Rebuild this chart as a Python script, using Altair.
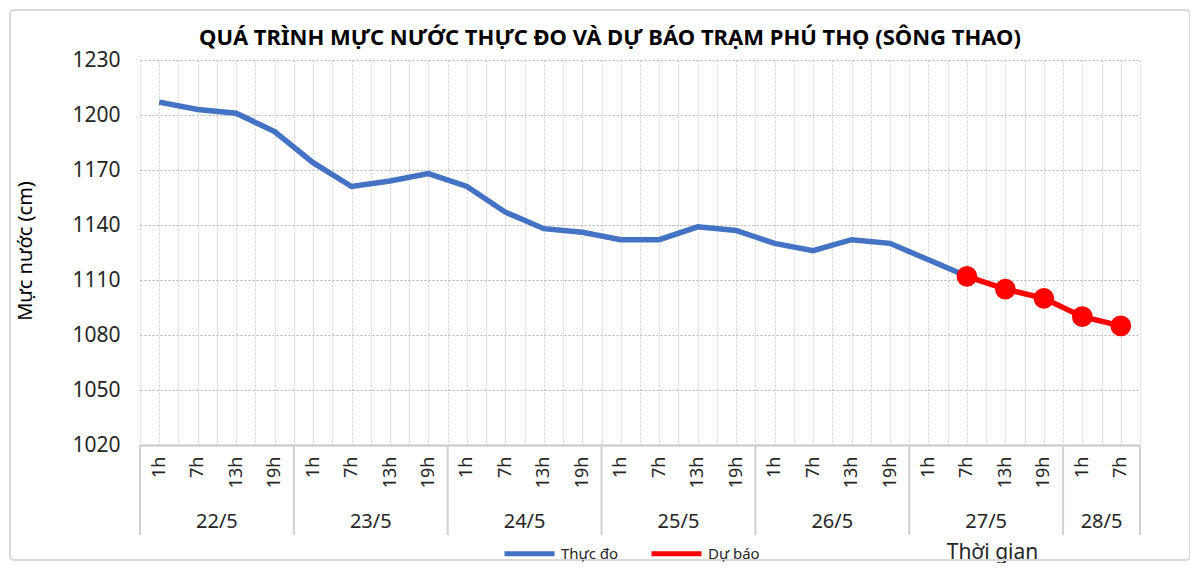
import altair as alt
import pandas as pd

# ---------------- data ----------------
dates = ["22/5", "23/5", "24/5", "25/5", "26/5", "27/5", "28/5"]
hours_per_day = [["1h", "7h", "13h", "19h"]] * 6 + [["1h", "7h"]]
hour_labels = [h for day in hours_per_day for h in day]

observed = [1207, 1203, 1201, 1191, 1174, 1161, 1164, 1168,
            1161, 1147, 1138, 1136, 1132, 1132, 1139, 1137,
            1130, 1126, 1132, 1130, 1121, 1112]
forecast = [1112, 1105, 1100, 1090, 1085]
forecast_start = len(observed) - 1

series_names = ["Thực đo", "Dự báo"]
y_ticks = [1020, 1050, 1080, 1110, 1140, 1170, 1200, 1230]

title_text = "QUÁ TRÌNH MỰC NƯỚC THỰC ĐO VÀ DỰ BÁO TRẠM PHÚ THỌ (SÔNG THAO)"
y_title = "Mực nước (cm)"
x_title = "Thời gian"

# ---------------- tables ----------------
rows = []
for i, v in enumerate(observed):
    rows.append({"idx": i, "value": v, "series": series_names[0]})
for j, v in enumerate(forecast):
    rows.append({"idx": forecast_start + j, "value": v, "series": series_names[1]})
df = pd.DataFrame(rows)

bounds = [-0.5]
centers = []
pos = 0
for day in hours_per_day:
    centers.append(pos + (len(day) - 1) / 2)
    pos += len(day)
    bounds.append(pos - 0.5)
df_bounds = pd.DataFrame({"idx": bounds})
df_dates = pd.DataFrame({"idx": centers, "date": dates})
df_title = pd.DataFrame({"t": [title_text]})

n = len(hour_labels)
FONT = "Noto Sans"
W, H = 1000, 385

x_scale = alt.Scale(domain=[-0.5, n - 0.5], nice=False, zero=False)
y_scale = alt.Scale(domain=[y_ticks[0], y_ticks[-1]], nice=False, zero=False)

arr = "[" + ",".join("'" + h + "'" for h in hour_labels) + "]"
label_expr = f"datum.value % 1 == 0 ? {arr}[datum.value] : ''"

x_axis = alt.Axis(
    values=[k / 2 for k in range(-1, 2 * n)],
    labelExpr=label_expr, labelAngle=270, labelFlush=False, labelOverlap=False,
    labelBound=False, labelFontSize=18, labelPadding=11, labelColor="#262626",
    labelFont=FONT,
    grid=True, gridDash=[2, 2], gridColor="#cccccc", gridWidth=1,
    ticks=False, domain=True, domainColor="#c8c8c8", domainWidth=2,
    title=x_title, titleFont=FONT, titleFontSize=21, titleFontWeight="normal",
    titleColor="#262626", titleX=852, titleY=96, titleAlign="center",
)
y_axis = alt.Axis(
    values=y_ticks, format="d", grid=True, gridDash=[2, 2], gridColor="#b4b4b4",
    ticks=False, domain=False, labelFontSize=21, labelPadding=20,
    labelColor="#262626", labelFont=FONT,
    title=y_title, titleFont=FONT, titleFontSize=20, titleFontWeight="normal",
    titleColor="#000000", titleX=-105, titleY=H / 2 - 2, titleAlign="center",
)

X = lambda: alt.X("idx:Q", scale=x_scale, axis=x_axis)
Y = lambda: alt.Y("value:Q", scale=y_scale, axis=y_axis)

color_enc = alt.Color(
    "series:N",
    scale=alt.Scale(domain=series_names, range=["#4472C4", "#FF0000"]),
    legend=alt.Legend(
        title=None, orient="none", legendX=362, legendY=466, direction="horizontal",
        symbolType="stroke", symbolSize=2500, symbolStrokeWidth=5,
        labelFontSize=15, labelFont=FONT, labelColor="#262626", columnPadding=22,
        labelOffset=4,
    ),
)

lines = alt.Chart(df).mark_line(strokeWidth=5.5).encode(
    x=X(), y=Y(), color=color_enc, detail="series:N"
)
points = alt.Chart(df).transform_filter(
    alt.datum.series == series_names[1]
).mark_circle(size=430, opacity=1).encode(
    x=X(), y=Y(), color=alt.value("#FF0000"),
)

seps = alt.Chart(df_bounds).mark_rule(color="#d0d0d0", strokeWidth=2).encode(
    x=X(), y=alt.value(H), y2=alt.value(H + 90)
)
date_text = alt.Chart(df_dates).mark_text(
    fontSize=20, font=FONT, color="#262626", baseline="middle"
).encode(x=X(), y=alt.value(H + 77), text="date:N")

title_mark = alt.Chart(df_title).mark_text(
    fontSize=22, font=FONT, fontWeight="bold", color="#000000", baseline="middle"
).encode(x=alt.value(470), y=alt.value(-22), text="t:N")

border = alt.Chart(df_title).mark_rect(
    fill=None, stroke="#d9d9d9", strokeWidth=2, cornerRadius=4
).encode(x=alt.value(-130), x2=alt.value(1050), y=alt.value(-50), y2=alt.value(500))

chart = alt.layer(lines, points, seps, date_text, title_mark, border).properties(
    width=W, height=H, background="white",
    autosize=alt.AutoSizeParams(type="none"),
    padding={"left": 132, "top": 52, "right": 50, "bottom": 118},
).configure_view(stroke=None)

chart.save("out.html", embed_options={"renderer": "svg", "actions": False})
